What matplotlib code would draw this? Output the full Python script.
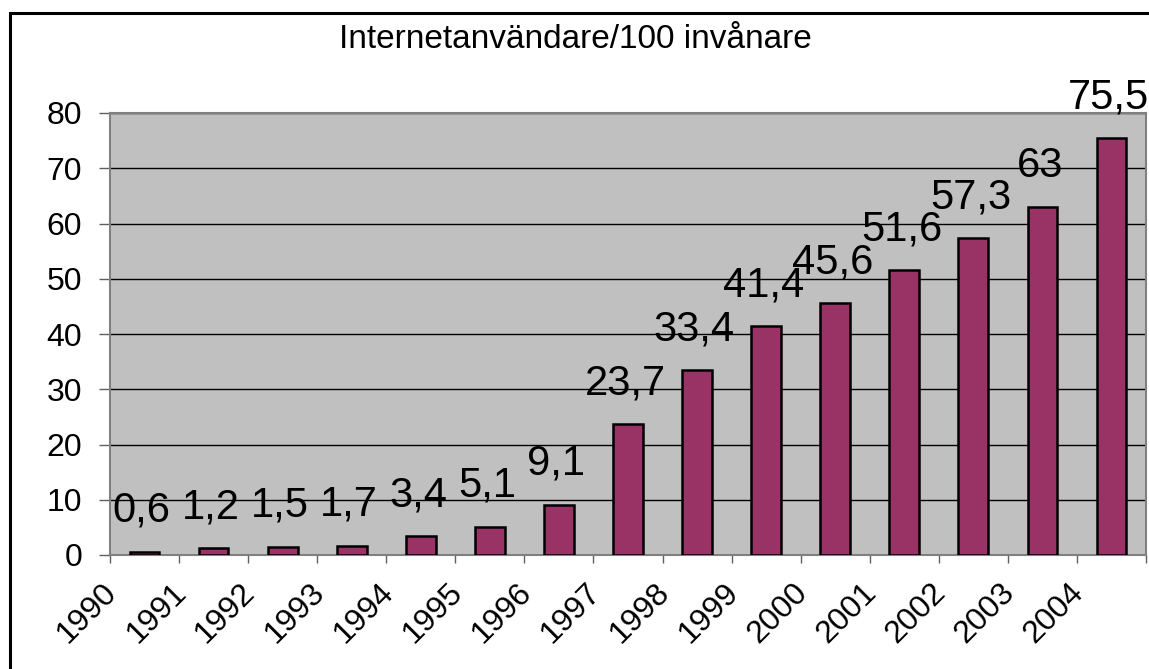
import matplotlib.pyplot as plt
import matplotlib.transforms as mtransforms
from matplotlib.patches import Rectangle

years = ['1990', '1991', '1992', '1993', '1994', '1995', '1996', '1997',
         '1998', '1999', '2000', '2001', '2002', '2003', '2004']
users = [0.6, 1.2, 1.5, 1.7, 3.4, 5.1, 9.1, 23.7, 33.4, 41.4, 45.6, 51.6, 57.3, 63, 75.5]
labels = ['0,6', '1,2', '1,5', '1,7', '3,4', '5,1', '9,1', '23,7', '33,4', '41,4',
          '45,6', '51,6', '57,3', '63', '75,5']

plt.rcParams['font.family'] = ['Liberation Sans', 'DejaVu Sans']

fig = plt.figure(figsize=(11.49, 6.69), dpi=100)
ax = fig.add_axes([110/1149, 1 - 555/669, (1146-110)/1149, (555-113)/669])
ax.set_facecolor('#c0c0c0')

xs = [i + 0.5 for i in range(len(users))]
ax.bar(xs, users, width=0.43, color='#993366', edgecolor='black', linewidth=1.8, zorder=3)

for x, v, t in zip(xs, users, labels):
  ax.annotate(t, (x, v), xytext=(-2, 15), textcoords='offset points',
              ha='center', va='bottom', fontsize=30, zorder=4)

ax.set_xlim(0, len(users))
ax.set_ylim(0, 80)
ax.set_yticks(range(0, 81, 10))
ax.set_xticks(range(len(users) + 1))
ax.set_xticklabels(years + [''], rotation=45, ha='right', va='top', rotation_mode='anchor')
ax.tick_params(axis='y', length=8, width=1, colors='#606060', labelcolor='black', labelsize=23, pad=12)
ax.tick_params(axis='x', length=6, width=1, colors='#606060', labelcolor='black', labelsize=23, pad=10)

# nudge the rotated year labels so they end at their tick
shift = mtransforms.ScaledTranslation(-8/100, 0, fig.dpi_scale_trans)
for lab in ax.get_xticklabels():
  lab.set_transform(lab.get_transform() + shift)

ax.yaxis.grid(True, color='black', linewidth=1, zorder=1)
ax.set_axisbelow(True)
for s in ax.spines.values():
  s.set_color('#808080')
  s.set_linewidth(1.5)

fig.text(575/1149, 1 - 40/669, 'Internetanvändare/100 invånare', ha='center', va='center', fontsize=24)

# outer chart border (cut off at the right and bottom)
fig.patches.append(Rectangle((10/1149, -0.1), 1.2, 1.1 - 13/669, transform=fig.transFigure,
                             fill=False, edgecolor='black', linewidth=2.2))

plt.savefig('out.png', dpi=100)
